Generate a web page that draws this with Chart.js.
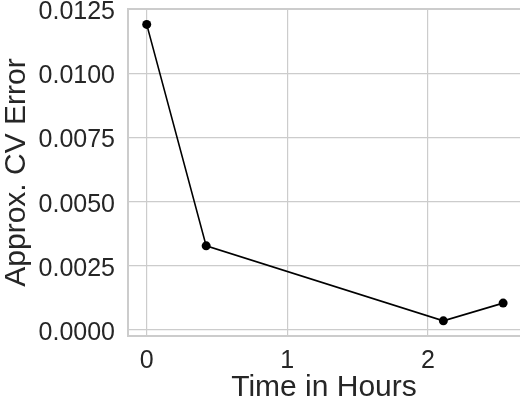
<!DOCTYPE html>
<html>
<head>
<meta charset="utf-8">
<script src="https://cdn.jsdelivr.net/npm/chart.js@4.4.1/dist/chart.umd.min.js"></script>
<style>
  html, body { margin: 0; padding: 0; background: #fff; }
  #chart { display: block; }
</style>
</head>
<body>
<canvas id="chart" width="520" height="400"></canvas>
<script>
// data
const hours = [0, 0.423, 2.11, 2.535];
const cvError = [0.0119, 0.00328, 0.00036, 0.00105];

const xTicks = [0, 1, 2];
const yTicks = [0, 0.0025, 0.005, 0.0075, 0.01, 0.0125];

const textColor = '#262626';
const gridColor = '#cccccc';
const fontFamily = '"Liberation Sans", Arial, sans-serif';

// seaborn whitegrid spines; the right one falls off the image edge
const frame = {
  id: 'frame',
  afterDraw(chart) {
    const { ctx, chartArea } = chart;
    const { left, top, right, bottom } = chartArea;
    ctx.save();
    ctx.strokeStyle = gridColor;
    ctx.lineWidth = 2;
    ctx.beginPath();
    ctx.moveTo(right, top);
    ctx.lineTo(left, top);
    ctx.lineTo(left, bottom);
    ctx.lineTo(right, bottom);
    ctx.stroke();
    ctx.restore();
  }
};

const data = {
  datasets: [
    {
      label: 'CV error',
      data: hours.map((h, i) => ({ x: h, y: cvError[i] })),
      borderColor: '#000',
      backgroundColor: '#000',
      borderWidth: 1.6,
      pointRadius: 4.5,
      pointBorderWidth: 0,
      tension: 0
    }
  ]
};

const config = {
  type: 'line',
  data,
  options: {
    responsive: false,
    animation: false,
    devicePixelRatio: 1,
    layout: { autoPadding: false, padding: { left: 0, right: 0, top: 9, bottom: 0 } },
    plugins: {
      legend: { display: false },
      tooltip: { enabled: false }
    },
    scales: {
      x: {
        type: 'linear',
        min: -0.133,
        max: 2.655,
        afterBuildTicks: axis => { axis.ticks = xTicks.map(v => ({ value: v })); },
        afterFit: axis => {
          axis.height = 64;
          axis.paddingLeft = 0;
          axis.paddingRight = 0;
        },
        grid: { color: gridColor, lineWidth: 1.2, drawTicks: false },
        border: { display: false },
        ticks: {
          color: textColor,
          padding: 10,
          font: { family: fontFamily, size: 25 },
          callback: v => String(v)
        },
        title: {
          display: true,
          text: 'Time in Hours',
          color: textColor,
          padding: { top: 0, bottom: -3 },
          font: { family: fontFamily, size: 30, lineHeight: 1 }
        }
      },
      y: {
        type: 'linear',
        min: -0.00023,
        max: 0.0125,
        afterBuildTicks: axis => { axis.ticks = yTicks.map(v => ({ value: v })); },
        afterFit: axis => {
          axis.width = 128;
          axis.paddingTop = 0;
          axis.paddingBottom = 0;
        },
        grid: { color: gridColor, lineWidth: 1.2, drawTicks: false },
        border: { display: false },
        ticks: {
          color: textColor,
          padding: 13,
          labelOffset: 3,
          font: { family: fontFamily, size: 25 },
          callback: v => v.toFixed(4)
        },
        title: {
          display: true,
          text: 'Approx. CV Error',
          color: textColor,
          padding: { top: 2, bottom: 0 },
          font: { family: fontFamily, size: 30, lineHeight: 1 }
        }
      }
    }
  },
  plugins: [frame]
};

new Chart(document.getElementById('chart'), config);
</script>
</body>
</html>
